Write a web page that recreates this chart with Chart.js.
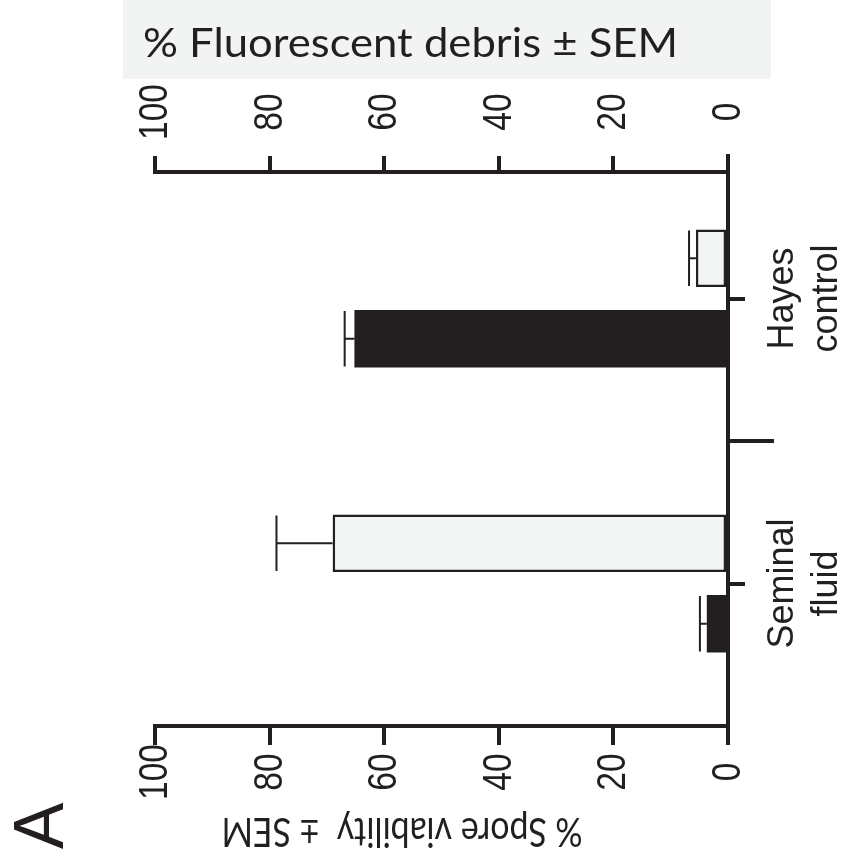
<!DOCTYPE html>
<html>
<head>
<meta charset="utf-8">
<script src="https://cdn.jsdelivr.net/npm/chart.js@4/dist/chart.umd.min.js"></script>
<style>
  html, body { margin: 0; padding: 0; background: #ffffff; }
  #wrap { width: 843px; height: 863px; }
</style>
</head>
<body>
<div id="wrap"><canvas id="c" width="843" height="863"></canvas></div>
<script>
// Groups along the vertical axis (labels are split over two lines)
const categories = [['Hayes', 'control'], ['Seminal', 'fluid']];

// % fluorescent debris (pale bars) and its SEM
const debrisMean = [5.6, 69.0];
const debrisSem = [1.2, 9.8];

// % spore viability (dark bars) and its SEM
const viabilityMean = [65.2, 3.7];
const viabilitySem = [1.7, 1.2];

// Value axis range and tick step
const axisMin = 0;
const axisMax = 100;
const axisStep = 20;

const topTitle = '% Fluorescent debris \u00B1 SEM';
const bottomTitle = '% Spore viability  \u00B1 SEM';
const panelLetter = 'A';

const INK = '#231f20';
const PALE = '#f3f4f4';
const TITLE_BOX = '#f2f3f3';
const SANS = '"Liberation Sans", Arial, sans-serif';
const HUMANIST = 'Lato, "Open Sans", sans-serif';

// The top value axis sits a little inside the plotting band
const TOP_AXIS_DROP = 16;

const shiftTopAxis = {
  id: 'shiftTopAxis',
  afterLayout(chart) {
    const s = chart.scales.x2;
    s.top += TOP_AXIS_DROP;
    s.bottom += TOP_AXIS_DROP;
  }
};

// text drawn at (x, y), turned by angle, squeezed along its own direction
function turnedText(ctx, text, x, y, angle, align, baseline, squeeze) {
  ctx.save();
  ctx.translate(x, y);
  ctx.rotate(angle);
  ctx.scale(squeeze || 1, 1);
  ctx.textAlign = align;
  ctx.textBaseline = baseline;
  ctx.fillText(text, 0, 0);
  ctx.restore();
}

// title text set to a given run length
function fittedText(ctx, text, x, y, angle, align, width) {
  const w = ctx.measureText(text).width;
  turnedText(ctx, text, x, y, angle, align, 'alphabetic', width / w);
}

const titleBox = {
  id: 'titleBox',
  beforeDraw(chart) {
    const ctx = chart.ctx;
    ctx.save();
    ctx.fillStyle = TITLE_BOX;
    ctx.fillRect(123, 0, 648, 79);
    ctx.fillStyle = INK;
    ctx.font = '40px ' + HUMANIST;
    fittedText(ctx, topTitle, 143, 57, 0, 'left', 535);
    ctx.restore();
  }
};

const errorBars = {
  id: 'errorBars',
  afterDatasetsDraw(chart) {
    const ctx = chart.ctx;
    ctx.save();
    ctx.strokeStyle = INK;
    ctx.lineWidth = 2;
    chart.data.datasets.forEach((ds, i) => {
      const meta = chart.getDatasetMeta(i);
      const xs = chart.scales[meta.xAxisID];
      meta.data.forEach((bar, j) => {
        const p = bar.getProps(['x', 'y', 'height'], true);
        const end = xs.getPixelForValue(ds.data[j] + ds.sem[j]);
        const half = p.height / 2 - 1;
        ctx.beginPath();
        ctx.moveTo(p.x, p.y);
        ctx.lineTo(end, p.y);
        ctx.moveTo(end, p.y - half);
        ctx.lineTo(end, p.y + half);
        ctx.stroke();
      });
    });
    ctx.restore();
  }
};

const axisText = {
  id: 'axisText',
  afterDraw(chart) {
    const ctx = chart.ctx;
    const xb = chart.scales.x;
    const xt = chart.scales.x2;
    const ys = chart.scales.y;
    const area = chart.chartArea;
    const up = -Math.PI / 2;
    ctx.save();
    ctx.fillStyle = INK;

    // value tick labels, turned a quarter and centred on each tick
    ctx.font = '40px ' + SANS;
    xt.ticks.forEach((t, i) => {
      turnedText(ctx, t.label, xt.getPixelForTick(i) + 1, xt.bottom - TOP_AXIS_DROP - 44, up, 'center', 'middle', 0.84);
    });
    xb.ticks.forEach((t, i) => {
      turnedText(ctx, t.label, xb.getPixelForTick(i) + 1, xb.top + 46, up, 'center', 'middle', 0.84);
    });

    // group labels, two lines each, turned a quarter
    ctx.font = '36px ' + SANS;
    ys.ticks.forEach((t, i) => {
      const y = ys.getPixelForTick(i);
      categories[i].forEach((line, k) => {
        turnedText(ctx, line, area.right + 65 + k * 44, y, up, 'center', 'alphabetic');
      });
    });

    // divider tick between the two groups
    const mid = ys.getPixelForValue(0.5);
    ctx.strokeStyle = INK;
    ctx.lineWidth = 4;
    ctx.beginPath();
    ctx.moveTo(area.right, mid);
    ctx.lineTo(area.right + 46, mid);
    ctx.stroke();

    // bottom axis title, upside down
    ctx.font = '40px ' + HUMANIST;
    fittedText(ctx, bottomTitle, 402, 818, Math.PI, 'center', 361);

    // panel letter
    ctx.font = '70px ' + SANS;
    turnedText(ctx, panelLetter, 63, 826, up, 'center', 'alphabetic');

    ctx.restore();
  }
};

const valueAxis = (position, height) => ({
  type: 'linear',
  position: position,
  min: axisMin,
  max: axisMax,
  reverse: true,
  ticks: { stepSize: axisStep, display: false },
  grid: {
    drawOnChartArea: false,
    drawTicks: true,
    tickLength: position === 'top' ? TOP_AXIS_DROP : 19,
    tickWidth: 4,
    lineWidth: 4,
    color: INK,
    tickColor: INK
  },
  border: { display: true, width: 4, color: INK },
  afterFit(s) { s.height = height; }
});

new Chart(document.getElementById('c'), {
  type: 'bar',
  data: {
    labels: categories,
    datasets: [
      {
        label: '% Fluorescent debris',
        data: debrisMean,
        sem: debrisSem,
        backgroundColor: PALE,
        borderColor: INK,
        borderWidth: 2.5,
        borderSkipped: false,
        xAxisID: 'x'
      },
      {
        label: '% Spore viability',
        data: viabilityMean,
        sem: viabilitySem,
        backgroundColor: INK,
        borderWidth: 0,
        xAxisID: 'x'
      }
    ]
  },
  options: {
    indexAxis: 'y',
    responsive: false,
    animation: false,
    devicePixelRatio: 1,
    categoryPercentage: 0.565,
    barPercentage: 0.714,
    layout: { padding: { left: 155, right: 0, top: 0, bottom: 0 } },
    plugins: {
      legend: { display: false },
      tooltip: { enabled: false },
      title: { display: false }
    },
    scales: {
      x: valueAxis('bottom', 137),
      x2: valueAxis('top', 156),
      y: {
        type: 'category',
        position: 'right',
        offset: true,
        ticks: { display: false },
        grid: {
          offset: false,
          drawOnChartArea: false,
          drawTicks: true,
          tickLength: 17,
          tickWidth: 4,
          lineWidth: 4,
          color: INK,
          tickColor: INK
        },
        border: { display: true, width: 4, color: INK },
        afterFit(s) { s.width = 115; }
      }
    }
  },
  plugins: [shiftTopAxis, titleBox, errorBars, axisText]
});
</script>
</body>
</html>
